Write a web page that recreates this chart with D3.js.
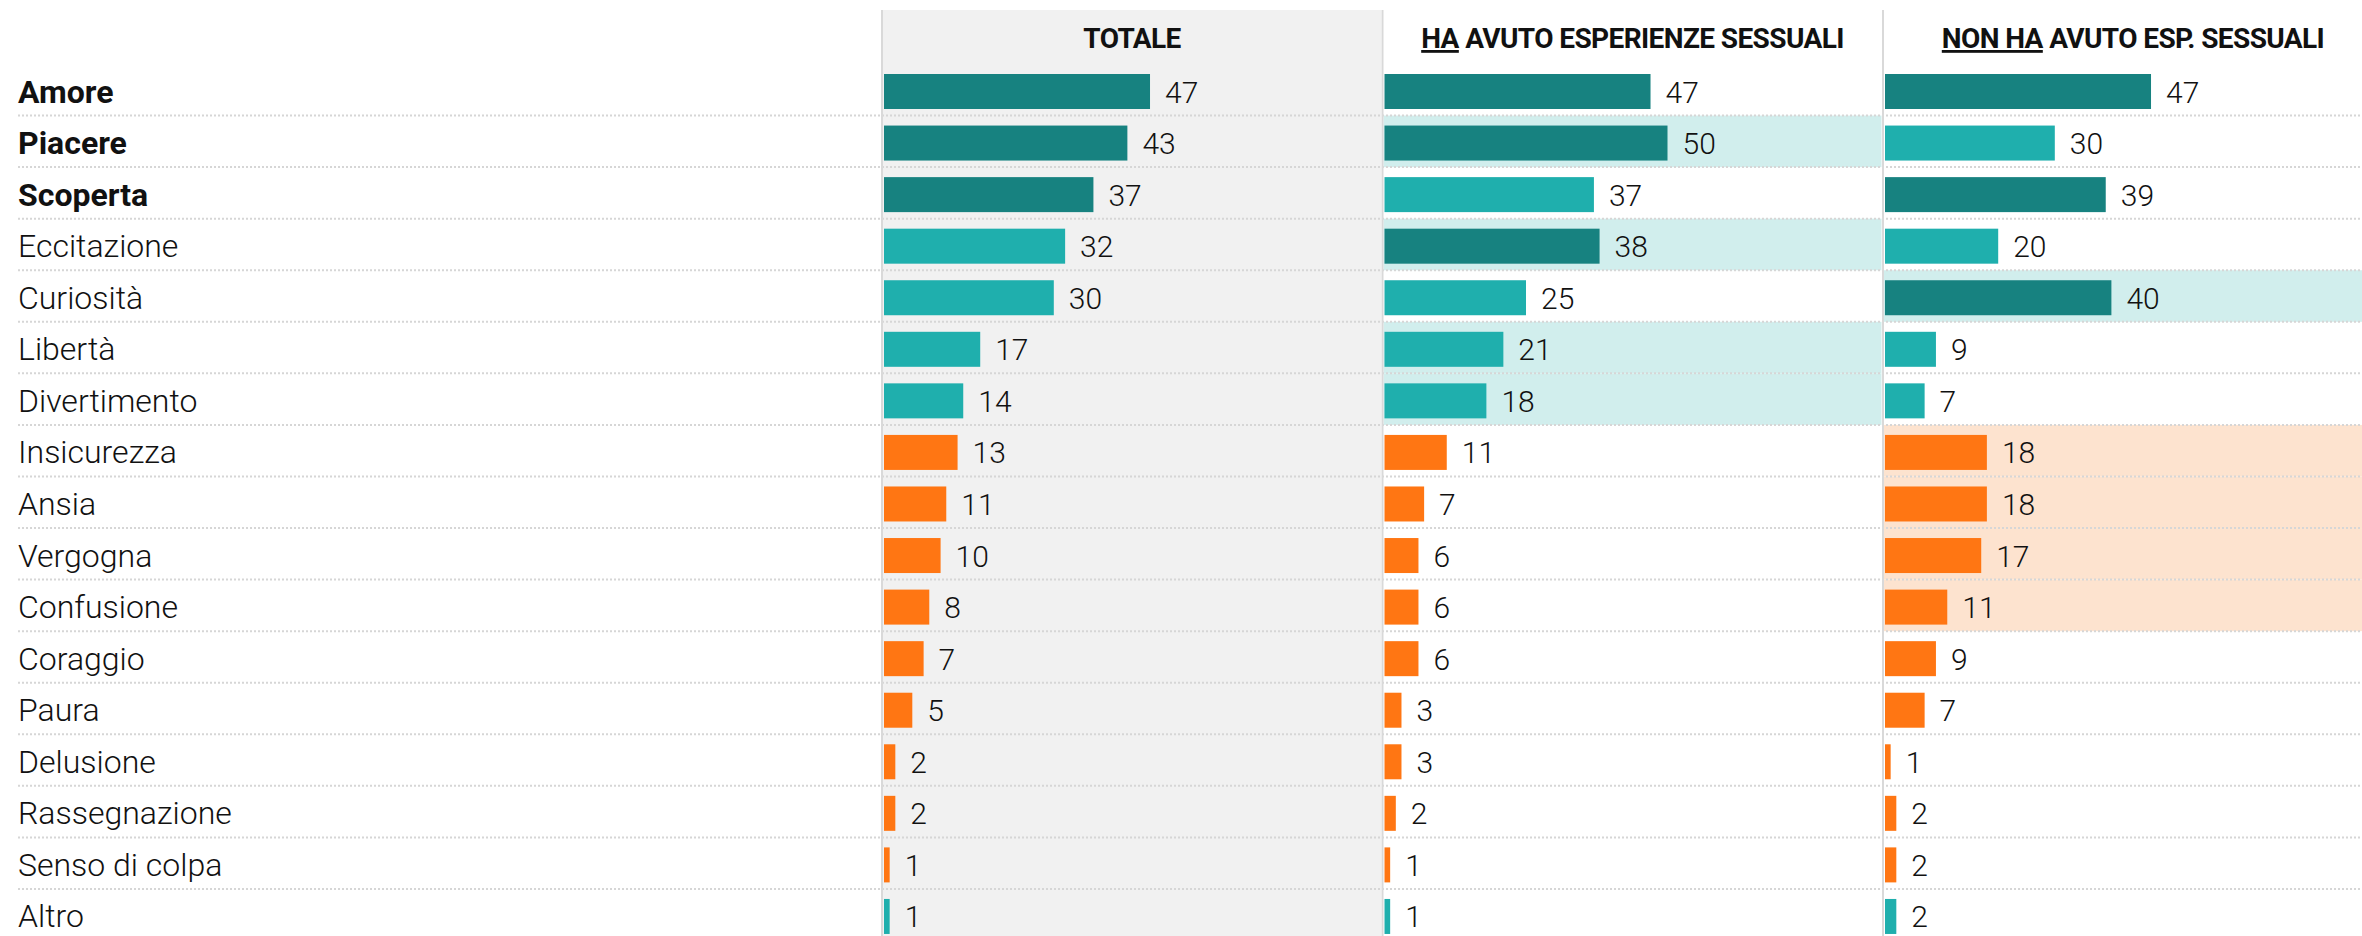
<!DOCTYPE html>
<html>
<head>
<meta charset="utf-8">
<script src="https://cdn.jsdelivr.net/npm/d3@7"></script>
<style>
  html, body { margin: 0; padding: 0; background: #fff; }
  svg { display: block; }
</style>
</head>
<body>
<svg id="chart" width="2362" height="936"></svg>
<script>
// ---- data ----
const categories = ["Amore","Piacere","Scoperta","Eccitazione","Curiosità","Libertà","Divertimento","Insicurezza","Ansia","Vergogna","Confusione","Coraggio","Paura","Delusione","Rassegnazione","Senso di colpa","Altro"];
const negativeCategories = ["Insicurezza","Ansia","Vergogna","Confusione","Coraggio","Paura","Delusione","Rassegnazione","Senso di colpa"];
const totale = [47,43,37,32,30,17,14,13,11,10,8,7,5,2,2,1,1];
const haAvuto = [47,50,37,38,25,21,18,11,7,6,6,6,3,3,2,1,1];
const nonHaAvuto = [47,30,39,20,40,9,7,18,18,17,11,9,7,1,2,2,2];
const haHighlight = ["Piacere","Eccitazione","Libertà","Divertimento"];
const nonHaHighlight = ["Curiosità","Insicurezza","Ansia","Vergogna","Confusione"];
const headers = [
  {under: "", rest: "TOTALE"},
  {under: "HA", rest: " AVUTO ESPERIENZE SESSUALI"},
  {under: "NON HA", rest: " AVUTO ESP. SESSUALI"}
];

// ---- styles / layout ----
const W = 2362, H = 936;
const DARK = "#178280", LIGHT = "#1fafad", ORANGE = "#ff7613";
const HL_TEAL = "#d1eeed", HL_ORANGE = "#fde3cf";
const FONT = "Roboto, 'Noto Sans', sans-serif";

const svg = d3.select("#chart");
const rowH = 51.56, rowTop = 64;
const y = d3.scaleBand().domain(categories).range([rowTop, rowTop + rowH * categories.length]).padding(0);
const barOff = 10, barH = 35;
const x = d3.scaleLinear().domain([0, 50]).range([0, 283]);

const panelX0 = 881, panelStep = 500.5, panelW = 500;
const panels = [
  {values: totale, highlight: [], bg: "#f1f1f1"},
  {values: haAvuto, highlight: haHighlight, bg: null},
  {values: nonHaAvuto, highlight: nonHaHighlight, bg: null}
];
const topBold = categories.filter((c, i) => totale.slice().sort((a,b)=>b-a).slice(0,3).includes(totale[i]));

// panel backgrounds
panels.forEach((p, pi) => {
  const px = panelX0 + pi * panelStep;
  if (p.bg) svg.append("rect").attr("x", px).attr("y", 10).attr("width", panelW).attr("height", H - 10).attr("fill", p.bg);
});

// highlights
panels.forEach((p, pi) => {
  const px = panelX0 + pi * panelStep;
  svg.append("g").selectAll("rect").data(p.highlight).join("rect")
    .attr("x", px + 2).attr("y", d => y(d)).attr("width", panelW - 2).attr("height", y.bandwidth())
    .attr("fill", d => negativeCategories.includes(d) ? HL_ORANGE : HL_TEAL);
});

// dotted separators
svg.append("g").selectAll("line").data(categories.slice(0, -1)).join("line")
  .attr("x1", 18).attr("x2", W)
  .attr("y1", d => y(d) + y.bandwidth()).attr("y2", d => y(d) + y.bandwidth())
  .attr("stroke", "#d6d6d6").attr("stroke-width", 2).attr("stroke-dasharray", "2,2");

// panel borders
panels.forEach((p, pi) => {
  const px = panelX0 + pi * panelStep;
  svg.append("rect").attr("x", px).attr("y", 10).attr("width", 2).attr("height", H - 10).attr("fill", "#d9d9d9");
});

// headers
headers.forEach((h, pi) => {
  const px = panelX0 + pi * panelStep;
  const t = svg.append("text").attr("x", px + panelW / 2 + 1).attr("y", 48)
    .attr("text-anchor", "middle").attr("font-family", FONT).attr("font-weight", 700)
    .attr("font-size", 28).attr("letter-spacing", -0.6).attr("fill", "#111");
  if (h.under) t.append("tspan").attr("text-decoration", "underline").text(h.under);
  t.append("tspan").text(h.rest);
});

// category labels
svg.append("g").selectAll("text").data(categories).join("text")
  .attr("x", 18).attr("y", d => y(d) + barOff + barH / 2 + 11)
  .attr("font-family", FONT).attr("font-size", 32)
  .attr("font-weight", d => topBold.includes(d) ? 700 : 300)
  .attr("fill", "#111").text(d => d);

// bars + values
panels.forEach((p, pi) => {
  const px = panelX0 + pi * panelStep + 3;
  const top3 = p.values.slice().sort((a,b)=>b-a)[2];
  const rows = categories.map((c, i) => ({c, v: p.values[i]}));
  const g = svg.append("g");
  g.selectAll("rect").data(rows).join("rect")
    .attr("x", px).attr("y", d => y(d.c) + barOff)
    .attr("width", d => x(d.v)).attr("height", barH)
    .attr("fill", d => negativeCategories.includes(d.c) ? ORANGE : (d.v >= top3 ? DARK : LIGHT));
  g.selectAll("text").data(rows).join("text")
    .attr("x", d => px + x(d.v) + 15).attr("y", d => y(d.c) + barOff + barH / 2 + 11)
    .attr("font-family", FONT).attr("font-size", 30).attr("font-weight", 300)
    .attr("fill", "#111").text(d => d.v);
});
</script>
</body>
</html>
